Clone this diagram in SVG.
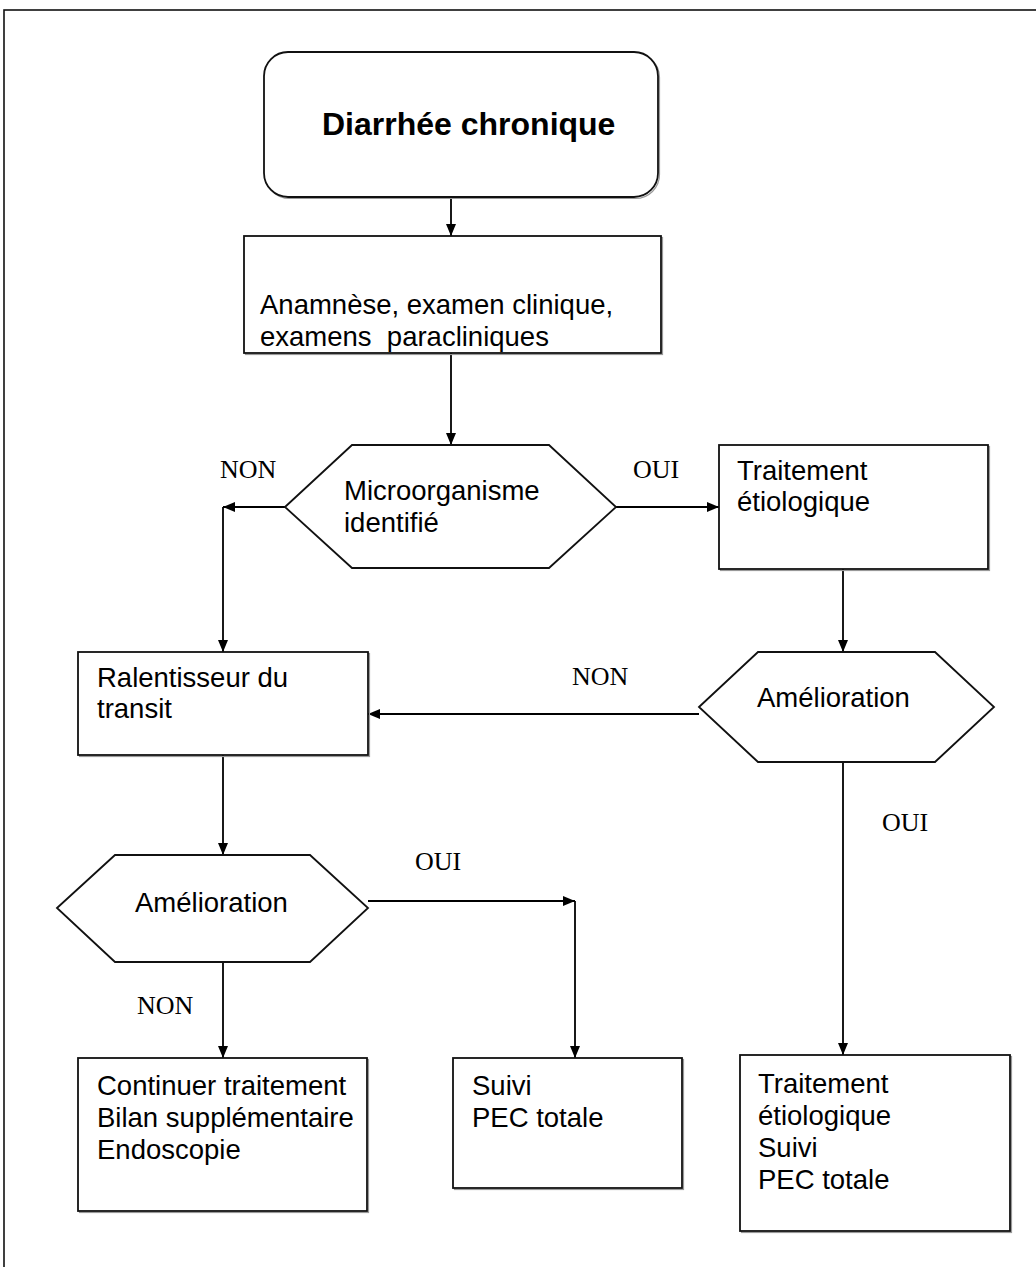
<svg xmlns="http://www.w3.org/2000/svg" width="1036" height="1267" viewBox="0 0 1036 1267">
  <defs>
    <marker id="arrow" viewBox="0 0 12 10" refX="12" refY="5" markerWidth="12" markerHeight="10" markerUnits="userSpaceOnUse" orient="auto">
      <path d="M0,0 L12,5 L0,10 Z" fill="#000"/>
    </marker>
  </defs>
  <style>
    .frame { fill: none; stroke: #111; stroke-width: 1.6; }
    .shape { fill: #fff; stroke: #111; stroke-width: 1.8; }
    .shadow { fill: none; stroke: #999; stroke-width: 1.2; }
    .wire { fill: none; stroke: #000; stroke-width: 1.8; }
    .arrowed { marker-end: url(#arrow); }
    .txt { font-family: "Liberation Sans", Arial, sans-serif; font-size: 27.5px; fill: #000; }
    .title { font-family: "Liberation Sans", Arial, sans-serif; font-size: 32px; font-weight: bold; fill: #000; }
    .lbl { font-family: "Liberation Serif", "Times New Roman", serif; font-size: 26px; fill: #000; }
  </style>

  <rect width="1036" height="1267" fill="#fff"/>
  <!-- page frame (right and bottom edges run off the sheet) -->
  <rect class="frame" x="4" y="10" width="1060" height="1290"/>

  <!-- connectors -->
  <g id="connectors">
    <line class="wire arrowed" x1="451" y1="197" x2="451" y2="236"/>
    <line class="wire arrowed" x1="451" y1="353" x2="451" y2="445"/>
    <!-- NON branch from first decision -->
    <polyline class="wire arrowed" points="285,507 223,507"/>
    <line class="wire arrowed" x1="223" y1="507" x2="223" y2="652"/>
    <!-- OUI branch from first decision -->
    <line class="wire arrowed" x1="616" y1="507" x2="719" y2="507"/>
    <line class="wire arrowed" x1="843" y1="569" x2="843" y2="652"/>
    <!-- NON from right decision back to slowing treatment -->
    <line class="wire arrowed" x1="699" y1="714" x2="368" y2="714"/>
    <!-- OUI from right decision down -->
    <line class="wire arrowed" x1="843" y1="756" x2="843" y2="1055"/>
    <!-- left column -->
    <line class="wire arrowed" x1="223" y1="755" x2="223" y2="855"/>
    <line class="wire arrowed" x1="223" y1="962" x2="223" y2="1058"/>
    <line class="wire arrowed" x1="368" y1="901" x2="575" y2="901"/>
    <line class="wire arrowed" x1="575" y1="901" x2="575" y2="1058"/>
  </g>

  <!-- branch labels -->
  <g id="labels">
    <text class="lbl" x="220" y="478">NON</text>
    <text class="lbl" x="633" y="478">OUI</text>
    <text class="lbl" x="572" y="685">NON</text>
    <text class="lbl" x="882" y="831">OUI</text>
    <text class="lbl" x="415" y="870">OUI</text>
    <text class="lbl" x="137" y="1014">NON</text>
  </g>

  <g id="start">
    <rect class="shadow" x="265.5" y="53.5" width="394" height="145" rx="24"/>
    <rect class="shape" x="264" y="52" width="394" height="145" rx="24"/>
    <text class="title" x="322" y="135">Diarrhée chronique</text>
  </g>

  <g id="bilan">
    <rect class="shadow" x="245.5" y="237.5" width="417" height="117"/>
    <rect class="shape" x="244" y="236" width="417" height="117"/>
    <text class="txt" x="260" y="314">Anamnèse, examen clinique,</text>
    <text class="txt" x="260" y="346" xml:space="preserve">examens  paracliniques</text>
  </g>

  <g id="decision-germe">
    <polygon class="shape" points="285,507 352,445 549,445 616,507 549,568 352,568"/>
    <text class="txt" x="344" y="500">Microorganisme</text>
    <text class="txt" x="344" y="532">identifié</text>
  </g>

  <g id="traitement-etio">
    <rect class="shadow" x="720.5" y="446.5" width="269" height="124"/>
    <rect class="shape" x="719" y="445" width="269" height="124"/>
    <text class="txt" x="737" y="480">Traitement</text>
    <text class="txt" x="737" y="511">étiologique</text>
  </g>

  <g id="ralentisseur">
    <rect class="shadow" x="79.5" y="653.5" width="290" height="103"/>
    <rect class="shape" x="78" y="652" width="290" height="103"/>
    <text class="txt" x="97" y="687">Ralentisseur du</text>
    <text class="txt" x="97" y="718">transit</text>
  </g>

  <g id="decision-droite">
    <polygon class="shape" points="699,707 758,652 935,652 994,707 935,762 758,762"/>
    <text class="txt" x="757" y="707">Amélioration</text>
  </g>

  <g id="decision-gauche">
    <polygon class="shape" points="57,908 115,855 310,855 368,908 310,962 115,962"/>
    <text class="txt" x="135" y="912">Amélioration</text>
  </g>

  <g id="continuer">
    <rect class="shadow" x="79.5" y="1059.5" width="289" height="153"/>
    <rect class="shape" x="78" y="1058" width="289" height="153"/>
    <text class="txt" x="97" y="1095">Continuer traitement</text>
    <text class="txt" x="97" y="1127">Bilan supplémentaire</text>
    <text class="txt" x="97" y="1159">Endoscopie</text>
  </g>

  <g id="suivi">
    <rect class="shadow" x="454.5" y="1059.5" width="229" height="130"/>
    <rect class="shape" x="453" y="1058" width="229" height="130"/>
    <text class="txt" x="472" y="1095">Suivi</text>
    <text class="txt" x="472" y="1127">PEC totale</text>
  </g>

  <g id="traitement-suivi">
    <rect class="shadow" x="741.5" y="1056.5" width="270" height="176"/>
    <rect class="shape" x="740" y="1055" width="270" height="176"/>
    <text class="txt" x="758" y="1093">Traitement</text>
    <text class="txt" x="758" y="1125">étiologique</text>
    <text class="txt" x="758" y="1157">Suivi</text>
    <text class="txt" x="758" y="1189">PEC totale</text>
  </g>
</svg>
